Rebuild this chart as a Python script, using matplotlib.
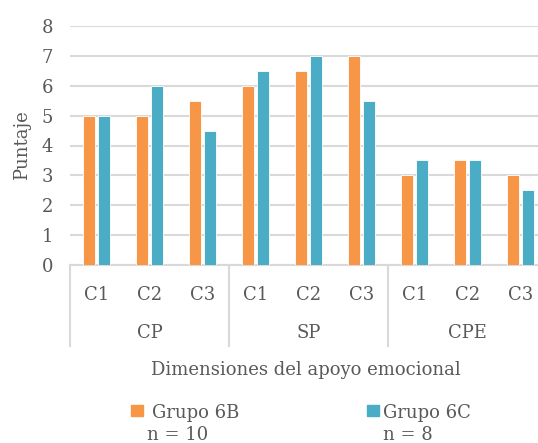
import matplotlib.pyplot as plt
import numpy as np
from matplotlib.patches import Rectangle
from matplotlib.transforms import blended_transform_factory

groups = ["CP", "SP", "CPE"]
subcats = ["C1", "C2", "C3"]
grupo_6b = [5, 5, 5.5, 6, 6.5, 7, 3, 3.5, 3]
grupo_6c = [5, 6, 4.5, 6.5, 7, 5.5, 3.5, 3.5, 2.5]
series_names = ["Grupo 6B", "Grupo 6C"]
series_n = ["n = 10", "n = 8"]

ORANGE = "#F79646"
TEAL = "#4BACC6"
GRID = "#D9D9D9"
TEXT = "#595959"

plt.rcParams["font.family"] = ["DejaVu Serif"]

fig = plt.figure(figsize=(5.38, 4.43), dpi=100)
ax = fig.add_axes([70 / 538, 178 / 443, 477 / 538, 239 / 443])

x = np.arange(len(grupo_6b))
w = 0.235
off = 0.143
ax.bar(x - off, grupo_6b, w, color=ORANGE, edgecolor="white", linewidth=0.6, zorder=3)
ax.bar(x + off, grupo_6c, w, color=TEAL, edgecolor="white", linewidth=0.6, zorder=3)

ax.set_xlim(-0.5, len(x) - 0.5)
ax.set_ylim(0, 8)
ax.set_yticks(range(0, 9))
ax.yaxis.grid(True, color=GRID, linewidth=1.5, zorder=0)
ax.set_axisbelow(True)
for s in ["top", "right", "left"]:
    ax.spines[s].set_visible(False)
ax.spines["bottom"].set_color(GRID)
ax.spines["bottom"].set_linewidth(1.5)
ax.tick_params(axis="y", length=0, pad=12, labelsize=13, labelcolor=TEXT)
ax.tick_params(axis="x", length=0, pad=15, labelsize=13, labelcolor=TEXT)
ax.set_xticks(x)
ax.set_xticklabels(subcats * len(groups))
ax.set_ylabel("Puntaje", fontsize=13, color=TEXT, labelpad=8)

# group labels and separators under the categories
tr = blended_transform_factory(ax.transData, ax.transAxes)
for i, g in enumerate(groups):
    ax.text(3 * i + 1, -0.285, g, transform=tr, ha="center", va="center",
            fontsize=13, color=TEXT, clip_on=False)
for b in range(len(groups) + 1):
    ax.plot([3 * b - 0.5, 3 * b - 0.5], [0, -0.34], transform=tr, color=GRID,
            linewidth=1.5, clip_on=False)

fig.text(306 / 538, 1 - 370 / 443, "Dimensiones del apoyo emocional",
         ha="center", va="center", fontsize=13, color=TEXT)

# legend: swatch, series name, and sample size underneath
for (lx, tx, nx, col, name, n) in [(131, 152, 147, ORANGE, series_names[0], series_n[0]),
                                   (367, 383, 383, TEAL, series_names[1], series_n[1])]:
    fig.patches.append(Rectangle((lx / 538, 1 - 416 / 443), 11.5 / 538, 11 / 443,
                                 transform=fig.transFigure, color=col))
    fig.text(tx / 538, 1 - 418 / 443, name, ha="left", va="baseline",
             fontsize=13, color=TEXT)
    fig.text(nx / 538, 1 - 440 / 443, n, ha="left", va="baseline",
             fontsize=13, color=TEXT)

fig.savefig("out.png", dpi=100)
